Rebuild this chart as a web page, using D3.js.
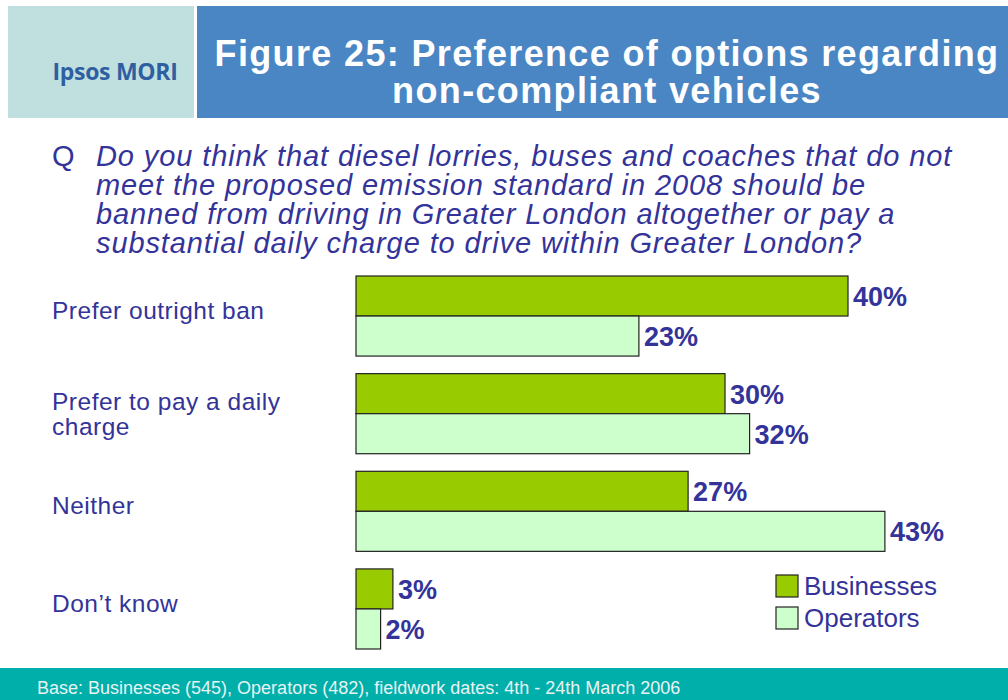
<!DOCTYPE html>
<html>
<head>
<meta charset="utf-8">
<script src="https://cdn.jsdelivr.net/npm/d3@7.9.0/dist/d3.min.js"></script>
<style>
  body { margin: 0; background: #fff; }
  svg { display: block; font-family: 'Liberation Sans', Arial, sans-serif; }
</style>
</head>
<body>
<svg id="chart" width="1008" height="700"></svg>
<script>
const categories = [['Prefer outright ban'], ['Prefer to pay a daily', 'charge'], ['Neither'], ['Don\u2019t know']];
const businesses = [40, 30, 27, 3];
const operators = [23, 32, 43, 2];
const seriesNames = ['Businesses', 'Operators'];
const seriesColors = ['#99CC00', '#CCFFCC'];
const titleLines = ['Figure 25: Preference of options regarding', 'non-compliant vehicles'];
const questionLines = [
  'Do you think that diesel lorries, buses and coaches that do not',
  'meet the proposed emission standard in 2008 should be',
  'banned from driving in Greater London altogether or pay a',
  'substantial daily charge to drive within Greater London?'
];
const baseNote = 'Base: Businesses (545), Operators (482), fieldwork dates: 4th - 24th March 2006';

const textBlue = '#333399';
const svg = d3.select('#chart');

// header
svg.append('rect').attr('x', 8).attr('y', 6).attr('width', 186).attr('height', 112).attr('fill', '#C0E0E0');
svg.append('rect').attr('x', 197).attr('y', 6).attr('width', 811).attr('height', 112).attr('fill', '#4A86C4');
svg.append('text').attr('x', 115).attr('y', 80).attr('text-anchor', 'middle')
  .attr('font-family', "'Open Sans', sans-serif").attr('font-weight', 'bold')
  .attr('font-size', 23).attr('fill', '#2F5FA0').attr('letter-spacing', -0.3).text('Ipsos MORI');
svg.append('g').selectAll('text').data(titleLines).join('text')
  .attr('x', 607).attr('y', (d, i) => 66 + i * 37).attr('text-anchor', 'middle')
  .attr('font-weight', 'bold').attr('font-size', 36).attr('letter-spacing', 1.35)
  .attr('fill', '#fff').text(d => d);

// question
svg.append('text').attr('x', 52).attr('y', 166).attr('font-size', 29).attr('fill', textBlue).text('Q');
svg.append('g').selectAll('text').data(questionLines).join('text')
  .attr('x', 96).attr('y', (d, i) => 166 + i * 29)
  .attr('font-size', 29).attr('letter-spacing', 0.9)
  .attr('font-style', 'italic').attr('fill', textBlue).text(d => d);

// chart
const x = d3.scaleLinear().domain([0, 40]).range([356, 848]);
const y = d3.scaleBand().domain(d3.range(categories.length)).range([276, 649]).paddingInner(0.18).paddingOuter(0);
const sub = d3.scaleBand().domain([0, 1]).range([0, y.bandwidth()]);

const rows = categories.map((c, i) => ({ i, label: c, vals: [businesses[i], operators[i]] }));
const groups = svg.append('g').selectAll('g').data(rows).join('g')
  .attr('transform', d => `translate(0,${y(d.i)})`);

groups.selectAll('rect').data(d => d.vals).join('rect')
  .attr('x', x(0)).attr('y', (d, j) => sub(j))
  .attr('width', d => x(d) - x(0)).attr('height', sub.bandwidth())
  .attr('fill', (d, j) => seriesColors[j]).attr('stroke', '#222').attr('stroke-width', 1.2);

groups.selectAll('text.val').data(d => d.vals).join('text').attr('class', 'val')
  .attr('x', d => x(d) + 5).attr('y', (d, j) => sub(j) + sub.bandwidth() / 2 + 10)
  .attr('font-size', 27).attr('font-weight', 'bold').attr('fill', textBlue).text(d => d + '%');

groups.append('text').attr('font-size', 24.5).attr('letter-spacing', 0.5).attr('fill', textBlue)
  .selectAll('tspan').data(d => d.label.map(t => ({ t, n: d.label.length }))).join('tspan')
  .attr('x', 52).attr('y', (d, k) => y.bandwidth() / 2 + (d.n === 1 ? 3 : 9) - (d.n - 1) * 13 + k * 25)
  .text(d => d.t);

// legend
const legend = svg.append('g').selectAll('g').data(seriesNames).join('g')
  .attr('transform', (d, i) => `translate(776,${575 + i * 32})`);
legend.append('rect').attr('width', 22).attr('height', 22)
  .attr('fill', (d, i) => seriesColors[i]).attr('stroke', '#222').attr('stroke-width', 1.2);
legend.append('text').attr('x', 28).attr('y', 20).attr('font-size', 26).attr('fill', textBlue).text(d => d);

// footer
svg.append('rect').attr('x', 0).attr('y', 668).attr('width', 1008).attr('height', 32).attr('fill', '#00AEAA');
svg.append('text').attr('x', 37).attr('y', 694).attr('font-size', 18).attr('fill', '#E8F4F4').text(baseNote);
</script>
</body>
</html>
